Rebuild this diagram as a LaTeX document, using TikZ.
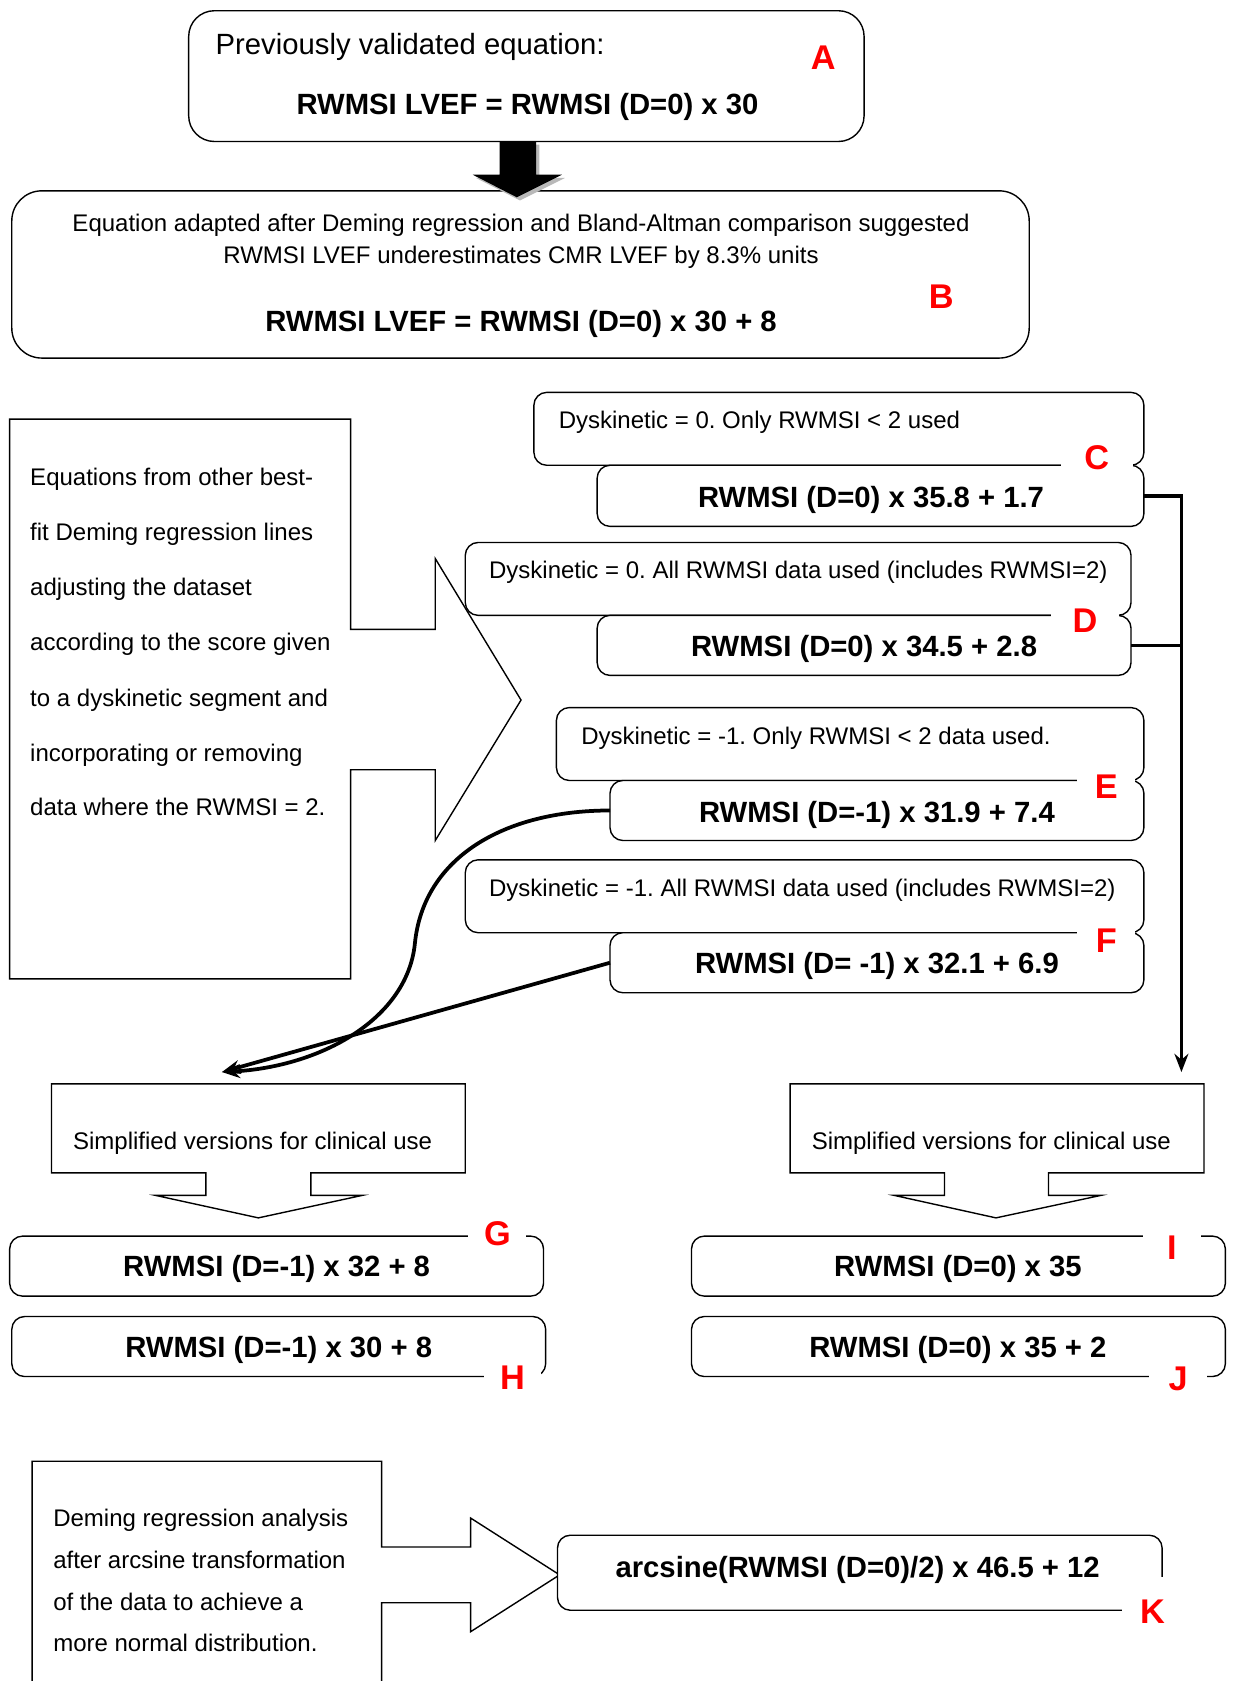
\documentclass[tikz,border=0pt]{standalone}
\usepackage{fontspec}
\setmainfont{Liberation Sans}
\usetikzlibrary{arrows.meta}
\newcommand\myreg{\fontsize{22.4}{26}\selectfont}
\newcommand\mybig{\fontsize{27.3}{32}\selectfont}
\newcommand\mybld{\fontsize{27.3}{32}\selectfont\bfseries}
\newcommand\mylab{\fontsize{32}{36}\selectfont\bfseries}
\frenchspacing
\begin{document}
\begin{tikzpicture}[x=1pt,y=-1pt,
  rbox/.style={draw, line width=1.3pt, fill=white, rounded corners=12pt, inner sep=0pt, outer sep=0pt, anchor=north west},
  shapeline/.style={draw, line width=1.3pt, fill=white, line join=miter},
  lab/.style={text=red, font=\mylab, fill=white, inner sep=0pt, minimum height=30pt},
  conn/.style={line width=3.5pt},
  reg/.style={font=\myreg, inner sep=0pt, anchor=base west},
  regc/.style={font=\myreg, inner sep=0pt, anchor=base},
  bld/.style={font=\mybld, inner sep=0pt, anchor=base},
  tipstyle/.style={-{Stealth[length=17pt,width=13pt]}}
]
\useasboundingbox (0,0) rectangle (1151,1568);
\fill[white] (0,0) rectangle (1151,1568);

% Box A
\node[rbox, rounded corners=24pt, minimum width=630pt, minimum height=122pt] (A) at (176,10) {};
\node[font=\mybig, inner sep=0pt, anchor=base west] (tA) at (201,51) {Previously validated equation:};
\node[bld] (eqA) at (492,107) {RWMSI LVEF = RWMSI (D=0) x 30};
\node[lab] (labA) at (768,54) {A};

% Box B
\node[rbox, rounded corners=28pt, minimum width=949pt, minimum height=156pt] (B) at (11,178) {};
\node[regc] (tB1) at (486,216) {Equation adapted after Deming regression and Bland-Altman comparison suggested};
\node[regc] (tB2) at (486,245.5) {RWMSI LVEF underestimates CMR LVEF by 8.3\% units};
\node[bld] (eqB) at (486,309) {RWMSI LVEF = RWMSI (D=0) x 30 + 8};
\node[lab] (labB) at (878,277) {B};

% thick arrow A -> B
\fill[gray!55] (469,135) -- (503,135) -- (503,166) -- (527,166) -- (485,187) -- (444,166) -- (469,166) -- cycle;
\fill[black] (466,132) -- (500,132) -- (500,163) -- (524,163) -- (482,184) -- (441,163) -- (466,163) -- cycle;

% Left callout
\draw[shapeline] (9,391) -- (327,391) -- (327,587) -- (406,587) -- (406,521) -- (486,653) -- (406,784) -- (406,718) -- (327,718) -- (327,913) -- (9,913) -- cycle;
\node[reg] (l1) at (28,452.5) {Equations from other best-};
\node[reg] (l2) at (28,504) {fit Deming regression lines};
\node[reg] (l3) at (28,555.5) {adjusting the dataset};
\node[reg] (l4) at (28,607) {according to the score given};
\node[reg] (l5) at (28,659) {to a dyskinetic segment and};
\node[reg] (l6) at (28,710) {incorporating or removing};
\node[reg] (l7) at (28,761) {data where the RWMSI = 2.};

% C
\node[rbox, minimum width=569pt, minimum height=68pt] (cU) at (498,366) {};
\node[rbox, minimum width=510pt, minimum height=57pt] (cL) at (557,434) {};
\node[reg] (tC) at (521,400) {Dyskinetic = 0. Only RWMSI < 2 used};
\node[bld] (eqC) at (812.5,473) {RWMSI (D=0) x 35.8 + 1.7};
\node[lab, minimum width=67pt] (labC) at (1023,427) {C};

% D
\node[rbox, minimum width=621pt, minimum height=68pt] (dU) at (434,506) {};
\node[rbox, minimum width=498pt, minimum height=56pt] (dL) at (557,574) {};
\node[reg] (tD) at (456,540) {Dyskinetic = 0. All RWMSI data used (includes RWMSI=2)};
\node[bld] (eqD) at (806,612) {RWMSI (D=0) x 34.5 + 2.8};
\node[lab, minimum width=64pt] (labD) at (1012,579) {D};

% E
\node[rbox, minimum width=548pt, minimum height=68pt] (eU) at (519,660) {};
\node[rbox, minimum width=498pt, minimum height=56pt] (eL) at (569,728) {};
\node[reg] (tE) at (542,694) {Dyskinetic = -1. Only RWMSI < 2 data used.};
\node[bld] (eqE) at (818,767) {RWMSI (D=-1) x 31.9 + 7.4};
\node[lab, minimum width=54pt] (labE) at (1032,734) {E};

% F
\node[rbox, minimum width=633pt, minimum height=68pt] (fU) at (434,802) {};
\node[rbox, minimum width=498pt, minimum height=56pt] (fL) at (569,870) {};
\node[reg] (tF) at (456,836) {Dyskinetic = -1. All RWMSI data used (includes RWMSI=2)};
\node[bld] (eqF) at (818,908) {RWMSI (D= -1) x 32.1 + 6.9};
\node[lab, minimum width=54pt] (labF) at (1032,877) {F};

% connectors
\coordinate (tipR) at (1102,1000);
\coordinate (tipL) at (207,1000);
\draw[conn, tipstyle] (cL.east) -| (tipR);
\draw[conn] (dL.east) -- (dL.east -| tipR);
\draw[conn, tipstyle] (eL.west) .. controls (470,756) and (395,800) .. (387,880) .. controls (380,950) and (300,995) .. (tipL);
\draw[conn, tipstyle] (fL.west) -- (tipL);

% Simplified callouts
\draw[shapeline] (48,1011) -- (434,1011) -- (434,1094) -- (290,1094) -- (290,1115) -- (338,1115) -- (241,1136) -- (145,1115) -- (192,1115) -- (192,1094) -- (48,1094) -- cycle;
\node[reg] (sL) at (68,1072) {Simplified versions for clinical use};
\draw[shapeline] (737,1011) -- (1123,1011) -- (1123,1094) -- (978,1094) -- (978,1115) -- (1027,1115) -- (929,1136) -- (834,1115) -- (881,1115) -- (881,1094) -- (737,1094) -- cycle;
\node[reg] (sR) at (757,1072) {Simplified versions for clinical use};

% G H I J
\node[rbox, minimum width=498pt, minimum height=56pt] (G) at (9,1153) {};
\node[bld] (eqG) at (258,1191) {RWMSI (D=-1) x 32 + 8};
\node[lab, minimum width=54pt] (labG) at (464,1151) {G};
\node[rbox, minimum width=498pt, minimum height=56pt] (H) at (11,1228) {};
\node[bld] (eqH) at (260,1266) {RWMSI (D=-1) x 30 + 8};
\node[lab, minimum width=54pt] (labH) at (478,1285) {H};
\node[rbox, minimum width=498pt, minimum height=56pt] (I) at (645,1153) {};
\node[bld] (eqI) at (893.5,1191) {RWMSI (D=0) x 35};
\node[lab, minimum width=54pt] (labI) at (1093,1164) {I};
\node[rbox, minimum width=498pt, minimum height=56pt] (J) at (645,1228) {};
\node[bld] (eqJ) at (893.5,1266) {RWMSI (D=0) x 35 + 2};
\node[lab, minimum width=54pt] (labJ) at (1099,1286) {J};

% bottom callout
\draw[shapeline] (30,1570) -- (30,1363) -- (356,1363) -- (356,1443) -- (439,1443) -- (439,1416) -- (522,1469) -- (439,1522) -- (439,1495) -- (356,1495) -- (356,1570);
\node[reg] (b1) at (49.5,1424) {Deming regression analysis};
\node[reg] (b2) at (49.5,1463) {after arcsine transformation};
\node[reg] (b3) at (49.5,1502) {of the data to achieve a};
\node[reg] (b4) at (49.5,1540) {more normal distribution.};

% K
\node[rbox, minimum width=564pt, minimum height=70pt] (K) at (520,1432) {};
\node[bld] (eqK) at (800,1471) {arcsine(RWMSI (D=0)/2) x 46.5 + 12};
\node[lab, minimum width=56pt, minimum height=64pt] (labK) at (1075,1503) {K};
\end{tikzpicture}
\end{document}
